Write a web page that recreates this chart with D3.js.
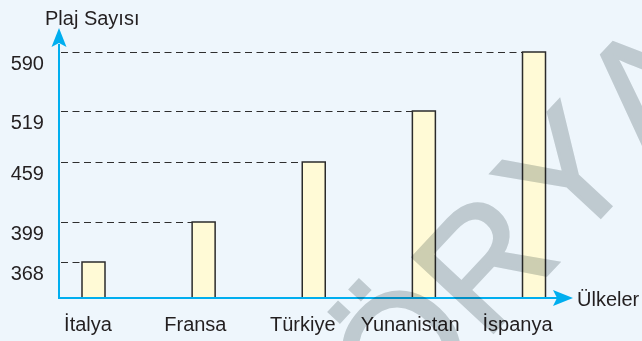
<!DOCTYPE html>
<html>
<head>
<meta charset="utf-8">
<script src="https://cdn.jsdelivr.net/npm/d3@7/dist/d3.min.js"></script>
<style>
  html, body { margin: 0; padding: 0; background: #eef6fc; }
  svg { display: block; }
</style>
</head>
<body>
<svg id="chart" width="642" height="341"></svg>
<script>
// Number of beaches per country
const countries = ["İtalya", "Fransa", "Türkiye", "Yunanistan", "İspanya"];
const beaches = [368, 399, 459, 519, 590];
const tickValues = [368, 399, 459, 519, 590];
const yTitle = "Plaj Sayısı";
const xTitle = "Ülkeler";
const watermark = ["Ö", "R", "Y", "A"];

const W = 642, H = 341;
const FONT = "Liberation Sans, Arial, sans-serif";
const axisColor = "#00aeef";
const textColor = "#231f20";

const svg = d3.select("#chart").attr("font-family", FONT);

svg.append("rect").attr("width", W).attr("height", H).attr("fill", "#eef6fc");

// The value axis is schematic (not to scale), so the scale is piecewise linear
const y = d3.scaleLinear()
  .domain([0, 368, 399, 459, 519, 590])
  .range([298, 262, 222, 162, 111, 52]);

const xBar = d3.scalePoint().domain(countries).range([93.5, 534]);
const xLabel = d3.scalePoint().domain(countries).range([87.5, 517]);
const barW = 23;
const axisX = 59, axisY = 298;

// Dashed guides from the value axis to the top of each bar
svg.append("g").selectAll("line")
  .data(countries)
  .join("line")
  .attr("x1", axisX + 2)
  .attr("x2", (d) => xBar(d) - barW / 2)
  .attr("y1", (d, i) => Math.round(y(beaches[i])) + 0.5)
  .attr("y2", (d, i) => Math.round(y(beaches[i])) + 0.5)
  .attr("stroke", "#2e2e2e")
  .attr("stroke-width", 1.2)
  .attr("stroke-dasharray", "7,4.5");

// Bars
svg.append("g").selectAll("rect")
  .data(countries)
  .join("rect")
  .attr("x", (d) => xBar(d) - barW / 2)
  .attr("y", (d, i) => y(beaches[i]))
  .attr("width", barW)
  .attr("height", (d, i) => y(0) - y(beaches[i]))
  .attr("fill", "#fffad6")
  .attr("stroke", "#2b2b2b")
  .attr("stroke-width", 1.5);

// Value axis labels
const yAxis = svg.append("g")
  .attr("transform", `translate(${axisX},0)`)
  .call(d3.axisLeft(y).tickValues(tickValues).tickSize(0).tickPadding(15).tickFormat(d3.format("d")));
yAxis.attr("font-family", FONT).attr("font-size", 20);
yAxis.select(".domain").remove();
yAxis.selectAll("text")
  .attr("y", 11)
  .attr("fill", textColor);

// Category labels
const xAxis = svg.append("g")
  .attr("transform", `translate(0,${axisY})`)
  .call(d3.axisBottom(xLabel).tickSize(0));
xAxis.attr("font-family", FONT).attr("font-size", 20);
xAxis.select(".domain").remove();
xAxis.selectAll("text")
  .attr("y", 33)
  .attr("dy", 0)
  .attr("fill", textColor);

// Axis lines with arrowheads
svg.append("line")
  .attr("x1", axisX).attr("x2", axisX)
  .attr("y1", axisY + 1).attr("y2", 44)
  .attr("stroke", axisColor).attr("stroke-width", 2);
svg.append("path")
  .attr("d", `M${axisX},28 L${axisX + 7.5},47 L${axisX},43 L${axisX - 7.5},47 Z`)
  .attr("fill", axisColor);

svg.append("line")
  .attr("x1", axisX - 1).attr("x2", 558)
  .attr("y1", axisY).attr("y2", axisY)
  .attr("stroke", axisColor).attr("stroke-width", 2);
svg.append("path")
  .attr("d", `M573,${axisY} L553,${axisY - 8} L557,${axisY} L553,${axisY + 8} Z`)
  .attr("fill", axisColor);

// Axis titles
svg.append("text")
  .attr("x", 45).attr("y", 25)
  .attr("font-size", 20)
  .attr("fill", textColor)
  .text(yTitle);
svg.append("text")
  .attr("x", 577).attr("y", 306)
  .attr("font-size", 20)
  .attr("fill", textColor)
  .text(xTitle);

// Diagonal watermark
const wm = svg.append("g")
  .attr("transform", "translate(400,348) rotate(-47)")
  .style("mix-blend-mode", "multiply");
wm.selectAll("text")
  .data(watermark)
  .join("text")
  .attr("x", (d, i) => i * 120)
  .attr("y", 0)
  .attr("dy", "0.36em")
  .attr("text-anchor", "middle")
  .attr("font-size", 160)
  .attr("fill", "#cdd2d3")
  .attr("stroke", "#cdd2d3")
  .attr("stroke-width", 3)
  .text((d) => d);
</script>
</body>
</html>
